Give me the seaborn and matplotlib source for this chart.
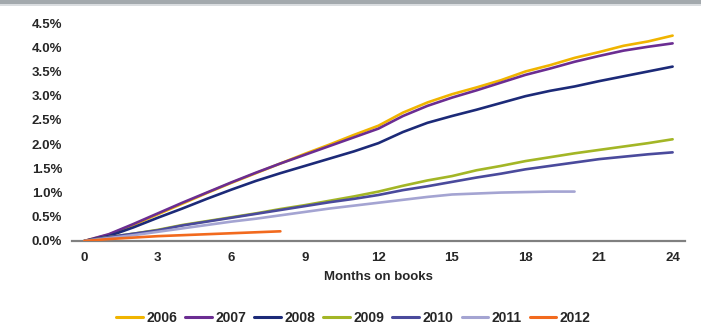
import pandas as pd
import seaborn as sns
import matplotlib.pyplot as plt
from matplotlib.patches import Rectangle

# Cumulative loss rate (%) by months on books, per vintage
v2006 = [0, 0.13, 0.33, 0.55, 0.77, 0.99, 1.20, 1.40, 1.60, 1.80, 1.99, 2.19, 2.38,
         2.65, 2.86, 3.03, 3.17, 3.32, 3.50, 3.63, 3.78, 3.90, 4.03, 4.12, 4.24]
v2007 = [0, 0.14, 0.35, 0.57, 0.79, 1.00, 1.21, 1.41, 1.60, 1.78, 1.96, 2.14, 2.32,
         2.58, 2.79, 2.96, 3.11, 3.27, 3.43, 3.56, 3.70, 3.82, 3.93, 4.01, 4.08]
v2008 = [0, 0.10, 0.28, 0.48, 0.67, 0.87, 1.06, 1.24, 1.40, 1.55, 1.70, 1.85, 2.02,
         2.25, 2.44, 2.58, 2.71, 2.85, 2.99, 3.10, 3.19, 3.30, 3.40, 3.50, 3.60]
v2009 = [0, 0.08, 0.15, 0.23, 0.33, 0.41, 0.49, 0.57, 0.66, 0.74, 0.83, 0.92, 1.02,
         1.14, 1.25, 1.34, 1.46, 1.55, 1.65, 1.73, 1.81, 1.88, 1.95, 2.02, 2.10]
v2010 = [0, 0.08, 0.15, 0.22, 0.32, 0.40, 0.48, 0.56, 0.64, 0.72, 0.80, 0.87, 0.95,
         1.05, 1.13, 1.22, 1.31, 1.39, 1.48, 1.55, 1.62, 1.69, 1.74, 1.79, 1.83]
v2011 = [0, 0.06, 0.12, 0.19, 0.26, 0.33, 0.40, 0.46, 0.53, 0.60, 0.67, 0.73, 0.79,
         0.85, 0.91, 0.96, 0.98, 1.00, 1.01, 1.02, 1.02]
v2012 = [0, 0.04, 0.07, 0.10, 0.12, 0.14, 0.16, 0.18, 0.20]

years = ['2006', '2007', '2008', '2009', '2010', '2011', '2012']
series = [v2006, v2007, v2008, v2009, v2010, v2011, v2012]
colors = ['#F0B400', '#6B2D92', '#1C2A78', '#A3B626', '#4A4A9C', '#A4A4D2', '#F26A1E']

x_ticks = list(range(0, 25, 3))
y_ticks = [0, 0.5, 1.0, 1.5, 2.0, 2.5, 3.0, 3.5, 4.0, 4.5]

rows = []
for yr, vals in zip(years, series):
    for m, v in enumerate(vals):
        rows.append({'Month': m, 'Rate': v, 'Year': yr})
df = pd.DataFrame(rows)

sns.set_style("white")
plt.rcParams['font.family'] = ['Liberation Sans', 'DejaVu Sans']

fig = plt.figure(figsize=(7.01, 3.35), dpi=100)
ax = fig.add_axes([0.1027, 0.2806, 0.8743, 0.6507])

sns.lineplot(data=df, x='Month', y='Rate', hue='Year', hue_order=years,
             palette=dict(zip(years, colors)), linewidth=1.9, ax=ax, legend=False)

ax.set_xlim(-0.5, 24.5)
ax.set_ylim(0, 4.5)
ax.set_xticks(x_ticks)
ax.set_xticklabels([str(t) for t in x_ticks], fontsize=9.5, fontweight='bold')
ax.set_yticks(y_ticks)
ax.set_yticklabels([f'{t:.1f}%' for t in y_ticks], fontsize=9.5, fontweight='bold')
ax.tick_params(axis='both', length=0)
ax.tick_params(axis='y', pad=7)
ax.tick_params(axis='x', pad=8)
ax.set_xlabel('Months on books', fontsize=9.5, fontweight='bold', labelpad=5)
ax.set_ylabel('')

for side in ['top', 'right', 'left']:
    ax.spines[side].set_visible(False)
ax.spines['bottom'].set_color('#808080')
ax.spines['bottom'].set_linewidth(1.6)
ax.spines['bottom'].set_zorder(0)

handles = [plt.Line2D([], [], color=c, linewidth=2.2) for c in colors]
fig.legend(handles, years, loc='center', bbox_to_anchor=(0.504, 0.051), ncol=7,
           frameon=False, handlelength=1.9, handletextpad=0.25, columnspacing=0.6,
           prop={'size': 10, 'weight': 'bold'})

# grey banner at the top of the picture
fig.patches.append(Rectangle((0, 0.988), 1, 0.012, transform=fig.transFigure,
                             facecolor='#A3A9AD', edgecolor='none'))
fig.patches.append(Rectangle((0, 0.982), 1, 0.006, transform=fig.transFigure,
                             facecolor='#DADDE0', edgecolor='none'))

plt.savefig('out.png', dpi=100)
